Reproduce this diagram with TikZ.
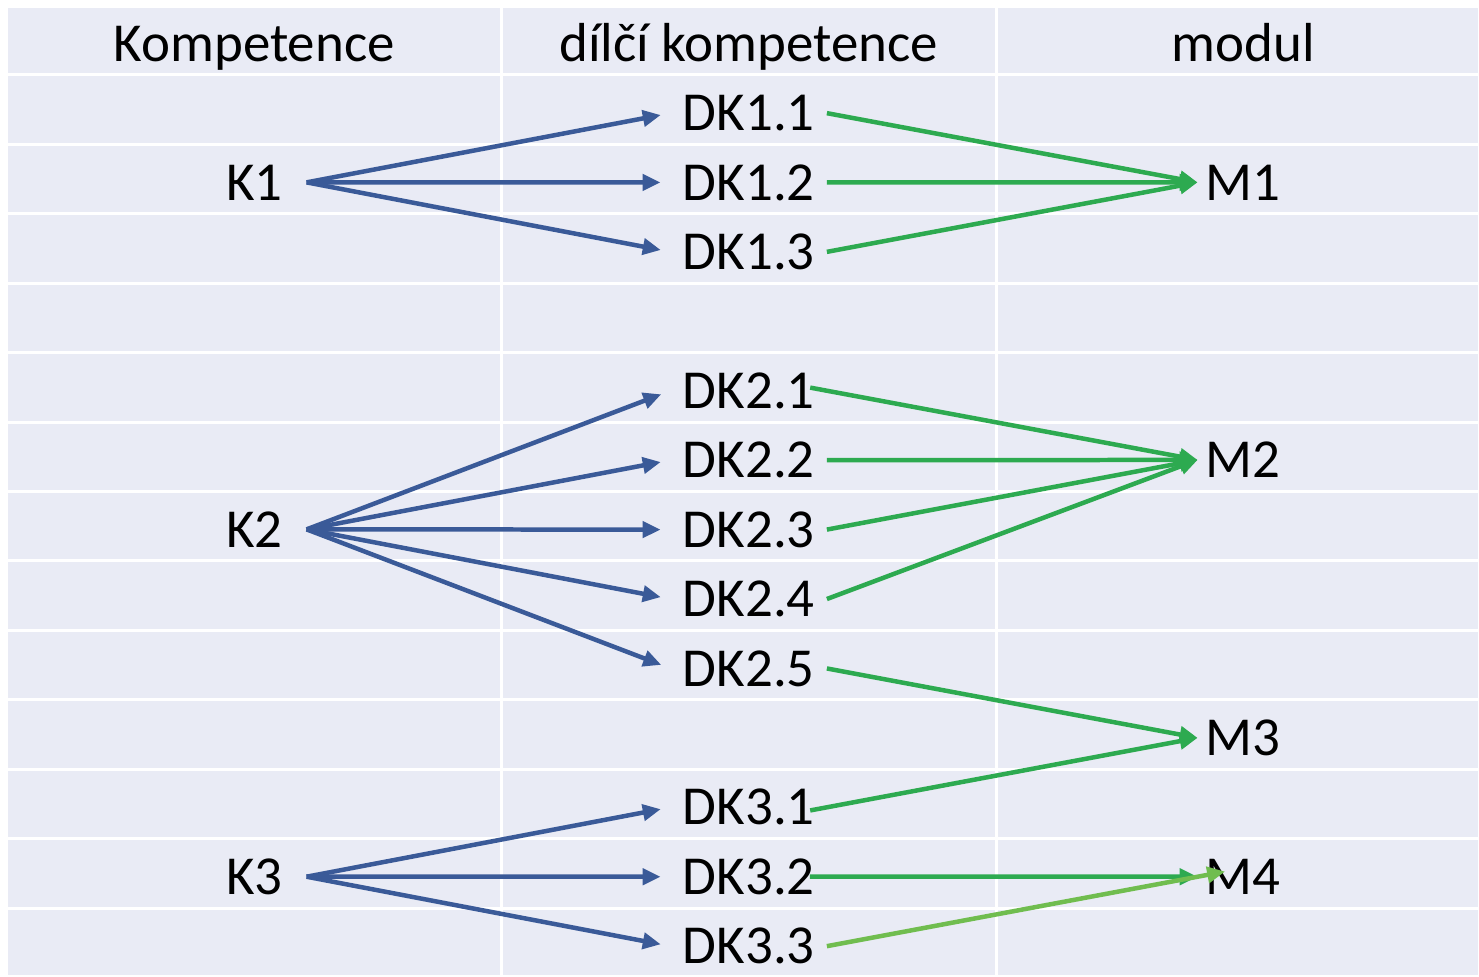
\documentclass[tikz,border=0pt]{standalone}
\usepackage{fontspec}
\setmainfont{Carlito}
\usetikzlibrary{arrows.meta}

\definecolor{cellbg}{HTML}{E9EBF5}
\definecolor{kblue}{HTML}{3A5A98}
\definecolor{mgreen}{HTML}{2DAA50}
\definecolor{mlight}{HTML}{70BD4F}

\tikzset{
  declare function={rowbase(\k)=61.25+69.5*\k;},
  lbl/.style={anchor=base, inner ysep=0pt, font=\fontsize{55}{66}\selectfont},
  kbox/.style={lbl, inner xsep=24pt},
  dkbox/.style={lbl, inner xsep=12pt},
  mbox/.style={lbl, inner xsep=8pt},
  karrow/.style={draw=kblue, line width=4.5pt, shorten >=10pt,
    -{Triangle[length=18pt, width=16pt]}},
  marrow/.style={draw=mgreen, line width=4.5pt,
    -{Triangle[length=18pt, width=16pt]}},
  mlightarrow/.style={marrow, draw=mlight}
}

\begin{document}
\begin{tikzpicture}[x=1pt, y=-1pt]

  \pgfmathsetmacro{\colA}{254.5}
  \pgfmathsetmacro{\colB}{749.5}
  \pgfmathsetmacro{\colC}{1244.5}

  % table background
  \fill[white] (0, 0) rectangle (1479, 976);
  \fill[cellbg] (8, 8) rectangle (1479, 976);
  \foreach \k in {0,...,12}{
      \draw[white, line width=3pt] (8, {75+69.5*\k}) -- (1479, {75+69.5*\k});
    }
  \foreach \x in {502, 997}{
      \draw[white, line width=3pt] (\x, 8) -- (\x, 976);
    }

  % header
  \node[lbl] (hK) at (\colA, {rowbase(0)}) {Kompetence};
  \node[lbl] (hDK) at (\colB, {rowbase(0)}) {dílčí kompetence};
  \node[lbl] (hM) at (\colC, {rowbase(0)}) {modul};

  % kompetence
  \node[kbox] (K1) at (\colA, {rowbase(2)}) {K1};
  \node[kbox] (K2) at (\colA, {rowbase(7)}) {K2};
  \node[kbox] (K3) at (\colA, {rowbase(12)}) {K3};

  % dilci kompetence
  \node[dkbox] (DK11) at (\colB, {rowbase(1)}) {DK1.1};
  \node[dkbox] (DK12) at (\colB, {rowbase(2)}) {DK1.2};
  \node[dkbox] (DK13) at (\colB, {rowbase(3)}) {DK1.3};
  \node[dkbox] (DK21) at (\colB, {rowbase(5)}) {DK2.1};
  \node[dkbox] (DK22) at (\colB, {rowbase(6)}) {DK2.2};
  \node[dkbox] (DK23) at (\colB, {rowbase(7)}) {DK2.3};
  \node[dkbox] (DK24) at (\colB, {rowbase(8)}) {DK2.4};
  \node[dkbox] (DK25) at (\colB, {rowbase(9)}) {DK2.5};
  \node[dkbox] (DK31) at (\colB, {rowbase(11)}) {DK3.1};
  \node[dkbox] (DK32) at (\colB, {rowbase(12)}) {DK3.2};
  \node[dkbox] (DK33) at (\colB, {rowbase(13)}) {DK3.3};

  % moduly
  \node[mbox] (M1) at (\colC, {rowbase(2)}) {M1};
  \node[mbox] (M2) at (\colC, {rowbase(6)}) {M2};
  \node[mbox] (M3) at (\colC, {rowbase(10)}) {M3};
  \node[mbox] (M4) at (\colC, {rowbase(12)}) {M4};

  % K -> DK
  \foreach \d in {11, 12, 13}{
      \draw[karrow] (K1.east) -- (DK\d.west);
    }
  \foreach \d in {21, 22, 23, 24, 25}{
      \draw[karrow] (K2.east) -- (DK\d.west);
    }
  \foreach \d in {31, 32, 33}{
      \draw[karrow] (K3.east) -- (DK\d.west);
    }

  % DK -> M
  \draw[marrow] (DK11.east) -- (M1.west);
  \draw[marrow] (DK12.east) -- (M1.west);
  \draw[marrow] (DK13.east) -- (M1.west);
  \draw[marrow, shorten <=-17pt] (DK21.east) -- (M2.west);
  \draw[marrow] (DK22.east) -- (M2.west);
  \draw[marrow] (DK23.east) -- (M2.west);
  \draw[marrow] (DK24.east) -- (M2.west);
  \draw[marrow] (DK25.east) -- (M3.west);
  \draw[marrow, shorten <=-17pt] (DK31.east) -- (M3.west);
  \draw[marrow, shorten <=-17pt] (DK32.east) -- (M4.west);
  \draw[mlightarrow, shorten >=-28pt] (DK33.east) -- (M4.west);

\end{tikzpicture}
\end{document}
